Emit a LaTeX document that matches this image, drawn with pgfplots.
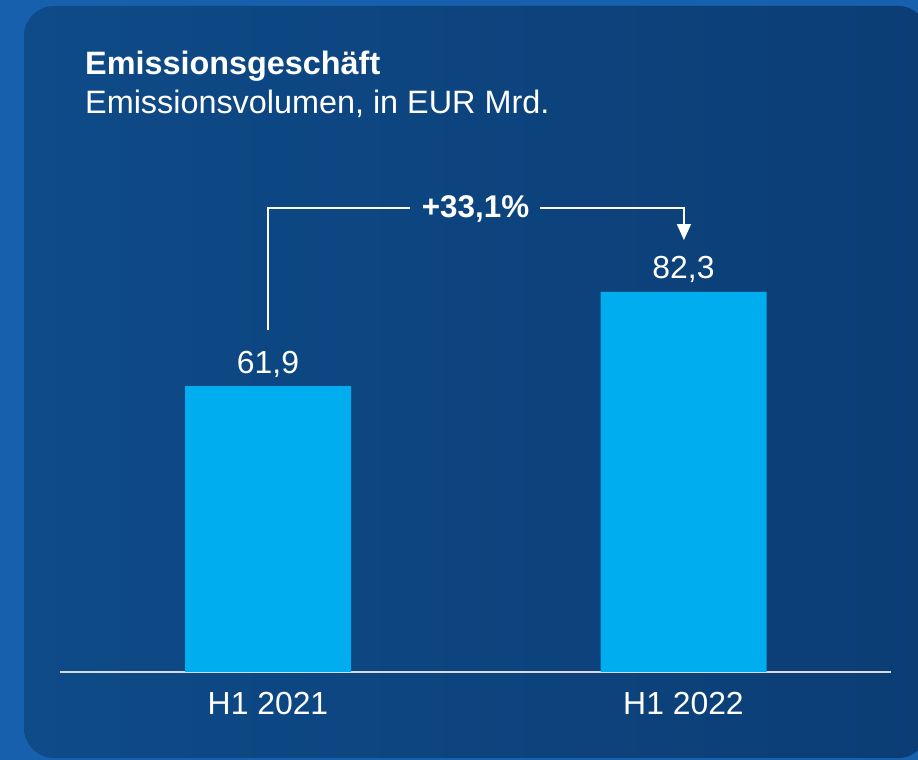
\documentclass[border=0pt]{standalone}
\usepackage{fontspec}
\setmainfont{Liberation Sans}
\usepackage{pgfplots}
\pgfplotsset{compat=1.18}
\usetikzlibrary{arrows.meta}
\definecolor{outerbg}{HTML}{1660AD}
\definecolor{panelL}{HTML}{0E4B88}
\definecolor{panelR}{HTML}{0C3D75}
\definecolor{barblue}{HTML}{00ADEF}
\definecolor{axisline}{HTML}{D5DCE6}
\begin{document}
\begin{tikzpicture}[x=1bp,y=1bp]
\useasboundingbox (0,0) rectangle (918,760);
\fill[outerbg] (0,0) rectangle (918,760);
\begin{scope}
\clip (0,0) rectangle (918,760);
\shade[left color=panelL, right color=panelR, rounded corners=30bp] (24,2) rectangle (928,754);
\end{scope}
\node[anchor=base west, inner sep=0pt, white, font=\bfseries\fontsize{32.5}{36}\selectfont] at (85,685) {Emissionsgeschäft};
\node[anchor=base west, inner sep=0pt, white, font=\fontsize{32.5}{36}\selectfont] at (85,646) {Emissionsvolumen, in EUR Mrd.};
\begin{axis}[
  at={(60bp,88bp)}, anchor=south west,
  scale only axis, width=831bp, height=554.4bp,
  xmin=-0.5006, xmax=1.4994, ymin=0, ymax=120,
  axis x line=bottom, axis y line=none,
  x axis line style={axisline, line width=1.6bp, -},
  ybar, bar width=166bp,
  xtick=data, xticklabels={H1 2021, H1 2022},
  major tick length=0pt,
  xticklabel style={anchor=base, yshift=-43bp, inner sep=0pt, text=white, font=\fontsize{32}{36}\selectfont},
  /pgf/number format/assume math mode=true,
  nodes near coords={\pgfmathprintnumber[use comma,fixed,precision=1,fixed zerofill]{\pgfplotspointmeta}},
  every node near coord/.append style={anchor=base, yshift=13bp, inner sep=0pt, text=white, font=\fontsize{32}{36}\selectfont},
  clip=false,
]
\addplot[fill=barblue, draw=none] coordinates {(0,61.9) (1,82.3)};
\draw[white, line width=1.6bp] (axis cs:0,74) |- (axis cs:0.342,100.4);
\draw[white, line width=1.6bp, -{Triangle[width=14bp,length=16bp]}] (axis cs:0.655,100.4) -| (axis cs:1.001,93.5);
\node[anchor=base, inner sep=0pt, white, font=\bfseries\fontsize{31.5}{36}\selectfont] at (axis cs:0.4995,98.3) {+33,1\%};
\end{axis}
\end{tikzpicture}
\end{document}
